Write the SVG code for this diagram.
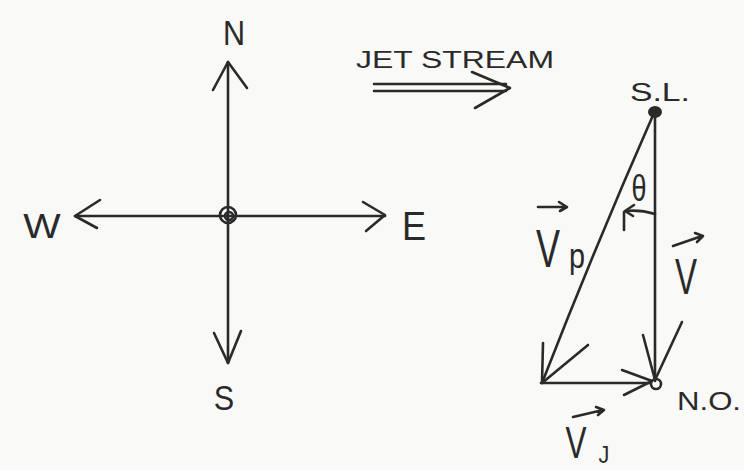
<svg xmlns="http://www.w3.org/2000/svg" width="744" height="470" viewBox="0 0 744 470">
<style>
.ln{fill:none;stroke:#2a2a2a;stroke-width:2.6;stroke-linecap:round;stroke-linejoin:round}
.t{font-family:"Liberation Sans",Arial,sans-serif;fill:#2a2a2a}
</style>
<rect width="744" height="470" fill="#f9f9f7"/>
<g id="compass">
<circle cx="228" cy="215" r="8" class="ln"/>
<circle cx="229" cy="216" r="4" class="ln" stroke-width="1.8"/>
</g>
<g id="connectors">
<g id="compass-arrows">
<path class="ln" d="M228 62 V363"/>
<path class="ln" d="M213 90 L228 62 L247 88"/>
<path class="ln" d="M214 333 L228 363 L241 331"/>
<path class="ln" d="M75 216 H385"/>
<path class="ln" d="M100 200 L75 216 L97 228"/>
<path class="ln" d="M363 202 L385 215 L366 231"/>
</g>
<g id="jet-arrow">
<path class="ln" d="M374 84 H506 M374 91 H506"/>
<path class="ln" d="M472 72 L510 88 L475 108"/>
</g>
<g id="vectors">
<path class="ln" d="M655 112 V381"/>
<path class="ln" d="M643 335 L655 380 L682 322"/>
<path class="ln" d="M654 113 C620 190 590 260 542 383"/>
<path class="ln" d="M543 343 L542 383 L588 345"/>
<path class="ln" d="M541 383 H650"/>
<path class="ln" d="M622 370 L652 381 L624 395"/>
<path class="ln" d="M655 214 C645 211 635 210 626 211"/>
<path class="ln" d="M634 205 L625 211 L633 216"/>
<path class="ln" d="M624 212 V230"/>
</g>
</g>
<g id="labels">
<text class="t" font-size="34" text-anchor="middle" transform="translate(234 45) scale(0.9 1.05)">N</text>
<text class="t" font-size="36" text-anchor="middle" transform="translate(42 238) scale(1.1 1)">W</text>
<text class="t" font-size="38" text-anchor="middle" transform="translate(414 240) scale(0.95 1.05)">E</text>
<text class="t" font-size="36" text-anchor="middle" transform="translate(224 410) scale(0.85 1)">S</text>
<text class="t" x="356" y="68" font-size="24" textLength="198" lengthAdjust="spacingAndGlyphs">JET STREAM</text>
</g>
<g id="SL">
<ellipse cx="655" cy="112" rx="7" ry="6" fill="#2a2a2a"/>
<text class="t" x="630" y="101" font-size="25" textLength="60" lengthAdjust="spacingAndGlyphs">S.L.</text>
</g>
<g id="NO">
<circle cx="656" cy="384" r="5" class="ln" stroke-width="2.2"/>
<text class="t" x="677" y="410" font-size="26" textLength="64" lengthAdjust="spacingAndGlyphs">N.O.</text>
</g>
<g id="theta">
<text class="t" font-size="36" text-anchor="middle" transform="translate(639 201) scale(0.75 1)">θ</text>
</g>
<g id="Vp">
<path class="ln" d="M538 207 H566 M559 202 L567 207 L560 211"/>
<text class="t" font-size="48" text-anchor="middle" transform="translate(548 267) scale(0.75 1.1)">V</text>
<text class="t" font-size="36" text-anchor="middle" transform="translate(577 268) scale(0.8 1)">p</text>
</g>
<g id="V">
<path class="ln" d="M673 246 L702 236 M695 233 L703 236 L697 242"/>
<text class="t" font-size="44" text-anchor="middle" transform="translate(686 294) scale(0.75 1.15)">V</text>
</g>
<g id="VJ">
<path class="ln" d="M573 417 L603 410 M596 407 L604 410 L598 415"/>
<text class="t" font-size="42" text-anchor="middle" transform="translate(576 458) scale(0.75 1.05)">V</text>
<text class="t" font-size="24" text-anchor="middle" transform="translate(604 463) scale(0.9 1)">J</text>
</g>
</svg>
